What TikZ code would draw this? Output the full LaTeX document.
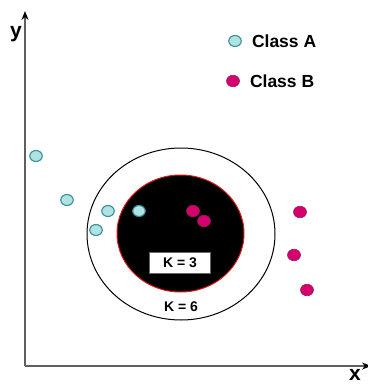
\documentclass[tikz,border=0pt]{standalone}
\usepackage{fontspec}
\setmainfont{Liberation Sans}
\usetikzlibrary{shapes.geometric, arrows.meta, positioning}
\definecolor{mycyan}{RGB}{176,226,228}
\definecolor{mycyanedge}{RGB}{52,142,146}
\definecolor{mymagenta}{RGB}{214,0,110}
\definecolor{mymagentaedge}{RGB}{150,30,80}
\definecolor{myaxis}{RGB}{95,95,95}
\definecolor{myred}{RGB}{230,20,20}
\tikzset{
  classA/.style={ellipse, draw=mycyanedge, fill=mycyan, line width=1.1pt,
    minimum width=12.5pt, minimum height=11pt, inner sep=0pt},
  classB/.style={ellipse, draw=mymagentaedge, fill=mymagenta, line width=0.6pt,
    minimum width=13pt, minimum height=11.5pt, inner sep=0pt},
  legendtext/.style={font=\fontsize{17.5}{20}\selectfont\bfseries, inner sep=0pt},
  klabel/.style={font=\fontsize{14}{16}\selectfont\bfseries, inner sep=0pt},
  axislabel/.style={font=\fontsize{21}{23}\selectfont\bfseries, inner sep=0pt},
  axis/.style={myaxis, line width=1.6pt, -{Stealth[length=9pt, width=7pt, black]}}
}

\begin{document}
\begin{tikzpicture}[x=1pt, y=-1pt]
  \useasboundingbox (0,0) rectangle (367,385);

  % Axes
  \coordinate (origin) at (25,366);
  \coordinate (ytop) at (25,11);
  \coordinate (xend) at (371,366);
  \draw[axis] (origin) -- (ytop);
  \draw[axis] (origin) -- (xend);
  \node[axislabel] (ylab) at (16,34) {y};
  \node[axislabel] (xlab) at (355,375) {x};

  % Neighbourhoods for K = 6 and K = 3
  \node[ellipse, draw=black, line width=1pt, minimum width=188pt, minimum height=172pt] (ksix) at (181,234) {};
  \node[ellipse, draw=myred, fill=black, line width=1pt, minimum width=127pt, minimum height=117pt] (kthree) at (180.5,233.5) {};
  \node[klabel, fill=white, draw=black!60, line width=0.4pt, minimum width=61pt, minimum height=21pt] (kthreelab) at (180,262.5) {K = 3};
  \node[klabel] (ksixlab) at (181,306.5) {K = 6};

  % Class A points
  \node[classA] (a1) at (36,156) {};
  \node[classA] (a2) at (67,200) {};
  \node[classA] (a3) at (108,211) {};
  \node[classA] (a4) at (96,230) {};
  \node[classA] (a5) at (139,211) {};

  % Class B points
  \node[classB] (b1) at (193,211) {};
  \node[classB] (b2) at (204,221) {};
  \node[classB] (b3) at (300,212) {};
  \node[classB] (b4) at (294,255) {};
  \node[classB] (b5) at (307,290) {};

  % Legend
  \node[classA] (lega) at (235,41) {};
  \node[legendtext, right=10pt of lega] (legatext) {Class A};
  \node[classB] (legb) at (233,81) {};
  \node[legendtext, right=10pt of legb] (legbtext) {Class B};
\end{tikzpicture}
\end{document}
